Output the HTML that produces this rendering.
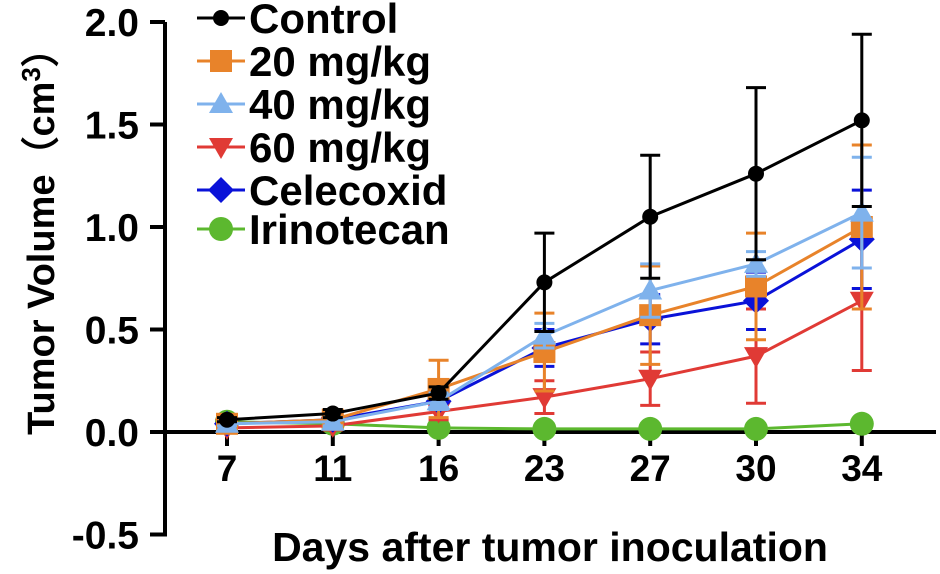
<!DOCTYPE html>
<html><head><meta charset="utf-8"><style>
html,body{margin:0;padding:0;background:#fff;width:940px;height:574px;overflow:hidden}
svg{display:block;font-family:"Liberation Sans",Arial,sans-serif;font-weight:bold}
</style></head><body>
<svg id="chart" width="940" height="574" viewBox="0 0 940 574" xmlns="http://www.w3.org/2000/svg"></svg>
<script>
const categories = ["7","11","16","23","27","30","34"];
const yTicks = [-0.5,0.0,0.5,1.0,1.5,2.0];
const seriesNames = ["Control","20 mg/kg","40 mg/kg","60 mg/kg","Celecoxid","Irinotecan"];
const controlVals = [0.06,0.09,0.19,0.73,1.05,1.26,1.52];
const controlErr  = [0.01,0.02,0.03,0.24,0.30,0.42,0.42];
const mg20Vals = [0.04,0.06,0.21,0.39,0.57,0.71,1.00];
const mg20Err  = [0.01,0.02,0.14,0.19,0.24,0.26,0.40];
const mg40Vals = [0.04,0.05,0.15,0.47,0.69,0.82,1.07];
const mg40Err  = [0.01,0.02,0.04,0.06,0.13,0.06,0.27];
const mg60Vals = [0.02,0.03,0.10,0.17,0.26,0.37,0.64];
const mg60Err  = [0.01,0.02,0.04,0.08,0.13,0.23,0.34];
const celeVals = [0.04,0.06,0.15,0.41,0.55,0.64,0.94];
const celeErr  = [0.01,0.02,0.03,0.09,0.12,0.14,0.24];
const iriVals  = [0.05,0.04,0.02,0.015,0.015,0.015,0.04];
const iriErr   = [0.01,0.01,0.01,0.01,0.01,0.01,0.01];

const NS="http://www.w3.org/2000/svg";
const svg=document.getElementById('chart');
function mk(t,a,p){const e=document.createElementNS(NS,t);for(const k in a)e.setAttribute(k,a[k]);(p||svg).appendChild(e);return e;}
const x0=227,dx=105.8;
function xs(i){return x0+i*dx;}
function ys(v){return 432-v*205;}

let e;
e=mk('line',{x1:165,y1:ys(2),x2:165,y2:ys(-0.5)+2,stroke:'#000','stroke-width':4});


e=mk('line',{x1:163,y1:432,x2:936,y2:432,stroke:'#000','stroke-width':4});


yTicks.forEach(v=>{
  const t=mk('line',{x1:150,y1:ys(v),x2:165,y2:ys(v),stroke:'#000','stroke-width':4});
  
  
  const l=mk('text',{x:139,y:ys(v)+14,'text-anchor':'end','font-size':39});
  l.textContent=v.toFixed(1);
  
  
});
categories.forEach((c,i)=>{
  const t=mk('line',{x1:xs(i),y1:432,x2:xs(i),y2:446,stroke:'#000','stroke-width':4});
  
  
  const l=mk('text',{x:xs(i),y:481,'text-anchor':'middle','font-size':37});
  l.textContent=c;
  
  
});
e=mk('text',{x:550,y:561,'text-anchor':'middle','font-size':41});
e.textContent='Days after tumor inoculation';


e=mk('text',{x:0,y:0,'text-anchor':'middle','font-size':38,transform:'translate(54,232) rotate(-90)'});
e.innerHTML='Tumor Volume（cm<tspan dy="-14" font-size="26">3</tspan><tspan dy="14">）</tspan>';



const colors=['#000000','#e8832a','#7fb2ec','#e03a35','#0a12d8','#5cb82f'];
const markers=['circle','square','tri','tridown','diamond','bigcircle'];
const vals=[controlVals,mg20Vals,mg40Vals,mg60Vals,celeVals,iriVals];
const errs=[controlErr,mg20Err,mg40Err,mg60Err,celeErr,iriErr];
const drawOrder=[5,3,4,1,2,0];

function marker(g,type,x,y,c){
  if(type==='circle') return mk('circle',{cx:x,cy:y,r:8,fill:c},g);
  if(type==='bigcircle') return mk('circle',{cx:x,cy:y,r:12,fill:c},g);
  if(type==='square') return mk('rect',{x:x-11,y:y-11,width:22,height:22,fill:c},g);
  if(type==='tri') return mk('polygon',{points:`${x},${y-12} ${x-12},${y+9} ${x+12},${y+9}`,fill:c},g);
  if(type==='tridown') return mk('polygon',{points:`${x},${y+12} ${x-12},${y-9} ${x+12},${y-9}`,fill:c},g);
  return mk('polygon',{points:`${x},${y-13} ${x+13},${y} ${x},${y+13} ${x-13},${y}`,fill:c},g);
}

drawOrder.forEach(s=>{
  const g=mk('g',{});
  
  
  const c=colors[s];
  vals[s].forEach((v,i)=>{
    const x=xs(i),yt=ys(v+errs[s][i]),yb=ys(v-errs[s][i]);
    const eb=mk('path',{d:`M${x},${yt}V${yb}M${x-10},${yt}H${x+10}M${x-10},${yb}H${x+10}`,stroke:c,'stroke-width':3,fill:'none'},g);
    
    
  });
  const pts=vals[s].map((v,i)=>xs(i)+','+ys(v)).join(' ');
  const pl=mk('polyline',{points:pts,stroke:c,'stroke-width':3,fill:'none'},g);
  
  
  vals[s].forEach((v,i)=>{
    const m=marker(g,markers[s],xs(i),ys(v),c);
    
    
  });
});

const legY=[18,61,104,147,190,229];
seriesNames.forEach((n,s)=>{
  const g=mk('g',{});
  
  
  const y=legY[s];
  mk('line',{x1:197,y1:y,x2:245,y2:y,stroke:colors[s],'stroke-width':3},g);
  marker(g,markers[s],221,y,colors[s]);
  const t=mk('text',{x:249,y:y+15,'font-size':42},g);
  t.textContent=n;
});
</script>
</body></html>
